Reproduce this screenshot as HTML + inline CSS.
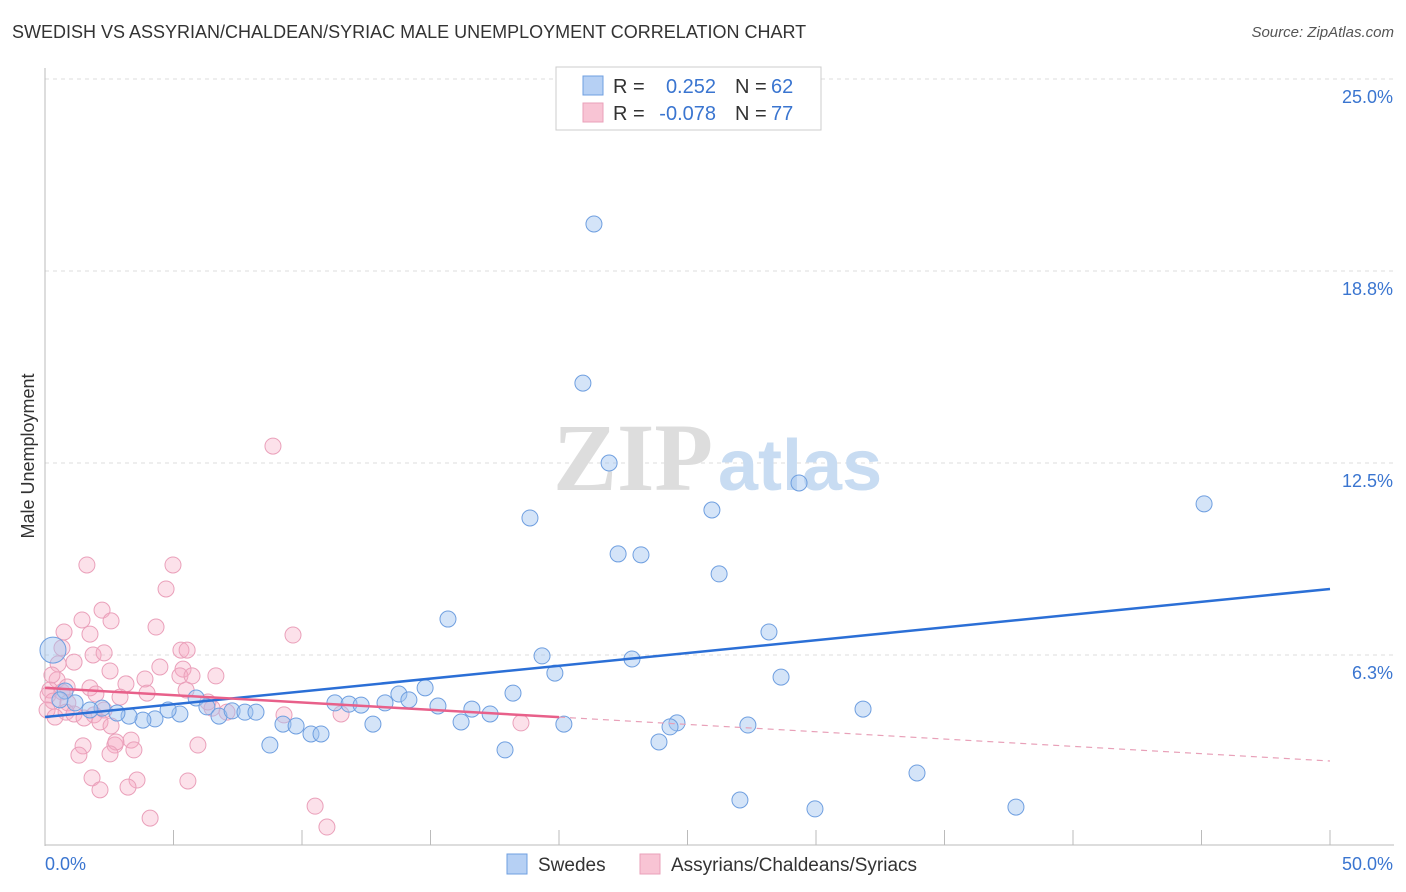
<!DOCTYPE html>
<html><head><meta charset="utf-8">
<style>
body{margin:0;background:#fff;font-family:"Liberation Sans",sans-serif;}
#wrap{position:relative;width:1406px;height:892px;overflow:hidden;}
.t{position:absolute;white-space:nowrap;}
</style></head>
<body>
<div id="wrap">
<div class="t" style="left:12px;top:22px;font-size:18px;color:#333;">SWEDISH VS ASSYRIAN/CHALDEAN/SYRIAC MALE UNEMPLOYMENT CORRELATION CHART</div>
<div class="t" style="right:12px;top:24px;font-size:15px;color:#555;font-style:italic;">Source: ZipAtlas.com</div>
<svg id="chart" width="1406" height="892" style="position:absolute;left:0;top:0"></svg>
</div>
<script>
const blueX=[21.36,20.93,21.95,18.87,25.95,29.34,45.10,22.30,23.19,26.23,15.68,28.17,19.34,22.84,19.84,28.64,14.79,13.77,18.21,11.28,11.83,12.30,13.23,14.16,15.29,16.61,17.32,16.19,12.76,20.19,31.83,24.59,24.32,27.35,23.89,17.90,8.75,9.26,9.77,10.35,10.74,5.88,6.30,6.77,7.28,7.78,8.21,5.25,4.79,4.28,3.81,3.27,2.80,2.22,1.75,1.17,0.78,0.31,0.58,33.93,27.04,29.96,37.78];
const blueY=[20.28,15.10,12.50,10.71,10.97,11.85,11.17,9.54,9.51,8.89,7.42,7.00,6.22,6.12,5.66,5.53,5.18,4.98,5.01,4.69,4.65,4.62,4.69,4.79,4.59,4.49,4.33,4.07,4.00,4.00,4.49,4.04,3.91,3.97,3.42,3.16,3.32,4.00,3.94,3.68,3.68,4.85,4.56,4.26,4.43,4.39,4.39,4.33,4.46,4.17,4.13,4.26,4.36,4.52,4.46,4.69,5.08,6.41,4.79,2.41,1.53,1.24,1.30];
const pinkX=[8.87,1.63,4.98,4.71,2.22,2.57,4.32,1.44,0.74,1.75,9.65,0.66,1.87,2.30,5.29,5.53,1.13,0.51,4.47,2.53,5.37,6.65,5.25,5.72,3.89,3.15,0.47,0.19,0.12,0.66,1.75,1.98,2.92,3.97,5.49,0.31,0.89,2.30,6.50,6.34,7.08,9.30,11.52,0.82,1.13,1.52,1.91,2.14,2.57,3.35,2.72,1.48,2.76,5.95,3.46,1.32,2.53,1.83,5.56,3.58,3.23,2.14,10.51,4.09,10.97,18.52,0.08,0.39,0.86,0.27];
const pinkY=[13.05,9.18,9.18,8.40,7.71,7.36,7.16,7.39,7.00,6.93,6.90,6.48,6.25,6.32,6.41,6.41,6.02,5.96,5.86,5.73,5.79,5.57,5.57,5.57,5.47,5.31,5.44,5.11,4.95,5.05,5.18,4.98,4.88,5.01,5.11,4.75,4.69,4.46,4.52,4.72,4.39,4.30,4.33,4.39,4.33,4.20,4.30,4.07,3.94,3.48,3.32,3.29,3.42,3.32,3.16,2.99,3.03,2.25,2.15,2.18,1.95,1.86,1.33,0.94,0.65,4.04,4.46,4.23,5.21,5.60];
const blueTrend=[4.23,8.40];
const pinkTrend=[5.18,2.80];
const yTicks=[6.3,12.5,18.8,25.0];
const xTickLabels=["0.0%","50.0%"];

const NS="http://www.w3.org/2000/svg";
const svg=document.getElementById('chart');
const X=v=>45+v*25.7, Y=v=>847-v*30.72;
function mk(tag,attrs,parent){const e=document.createElementNS(NS,tag);for(const k in attrs)e.setAttribute(k,attrs[k]);(parent||svg).appendChild(e);return e;}
// gridlines
yTicks.forEach(t=>{
 const l=mk('line',{x1:45,x2:1394,y1:Y(t===25?25:t===18.8?18.75:t===12.5?12.5:6.25),y2:Y(t===25?25:t===18.8?18.75:t===12.5?12.5:6.25),stroke:'#ddd','stroke-dasharray':'4,4'});
 
 
 const tx=mk('text',{x:1393,y:Y(t===25?25:t===18.8?18.75:t===12.5?12.5:6.25)+24,'text-anchor':'end',fill:'#3a75d0','font-size':18,'font-family':'Liberation Sans'});
 tx.textContent=t.toFixed(1)+'%';
 
 
});
// axes
const ya=mk('line',{x1:45,x2:45,y1:68,y2:846,stroke:'#bbb'});


const xa=mk('line',{x1:45,x2:1394,y1:845,y2:845,stroke:'#bbb'});


for(let i=0;i<=10;i++){const tk=mk('line',{x1:X(i*5),x2:X(i*5),y1:830,y2:845,stroke:'#bbb'});
 
 }
const xl0=mk('text',{x:45,y:870,fill:'#3a75d0','font-size':18,'font-family':'Liberation Sans'});xl0.textContent=xTickLabels[0];


const xl1=mk('text',{x:1393,y:870,'text-anchor':'end',fill:'#3a75d0','font-size':18,'font-family':'Liberation Sans'});xl1.textContent=xTickLabels[1];


const yt=mk('text',{x:0,y:0,transform:'translate(34,456) rotate(-90)','text-anchor':'middle',fill:'#333','font-size':18,'font-family':'Liberation Sans'});yt.textContent='Male Unemployment';


// watermark
const wm=mk('text',{x:553,y:490,fill:'#ddd','font-size':96,'font-family':'Liberation Serif','font-weight':'bold'});wm.textContent='ZIP';


const wm2=mk('text',{x:718,y:490,fill:'#c8dcf2','font-size':72,'font-family':'Liberation Sans','font-weight':'bold'});wm2.textContent='atlas';


// points
pinkX.forEach((x,i)=>{const c=mk('circle',{cx:X(x),cy:Y(pinkY[i]),r:8,fill:'rgba(245,170,195,0.35)',stroke:'#eaa0ba','stroke-width':1});
 
 });
blueX.forEach((x,i)=>{const c=mk('circle',{cx:X(x),cy:Y(blueY[i]),r:i===57?13:8,fill:'rgba(160,195,240,0.45)',stroke:'#6f9fe0','stroke-width':1});
 
 });
// trend lines
const bl=mk('line',{x1:X(0),y1:Y(blueTrend[0]),x2:X(50),y2:Y(blueTrend[1]),stroke:'#2b6fd6','stroke-width':2.5});


const pAt=v=>pinkTrend[0]+(pinkTrend[1]-pinkTrend[0])*v/50;
const pl=mk('line',{x1:X(0),y1:Y(pAt(0)),x2:X(20),y2:Y(pAt(20)),stroke:'#e8608a','stroke-width':2.5});


const pd=mk('line',{x1:X(20),y1:Y(pAt(20)),x2:X(50),y2:Y(pAt(50)),stroke:'#e8a0b8','stroke-width':1.2,'stroke-dasharray':'6,5'});


// legend box
const lg=mk('g',{});


mk('rect',{x:556,y:67,width:265,height:63,fill:'#fff',stroke:'#ccc'},lg);
mk('rect',{x:583,y:76,width:20,height:19,fill:'#b6d0f4',stroke:'#6f9fe0'},lg);
mk('rect',{x:583,y:103,width:20,height:19,fill:'#f8c4d4',stroke:'#eaa0ba'},lg);
function lt(x,y,s,c,a){const t=mk('text',{x:x,y:y,fill:c,'font-size':20,'font-family':'Liberation Sans','text-anchor':a||'start'},lg);t.textContent=s;return t;}
lt(613,93,'R =','#333');lt(716,93,'0.252','#3a75d0','end');lt(735,93,'N =','#333');lt(771,93,'62','#3a75d0');
lt(613,120,'R =','#333');lt(716,120,'-0.078','#3a75d0','end');lt(735,120,'N =','#333');lt(771,120,'77','#3a75d0');
// bottom legend
const b1=mk('rect',{x:507,y:854,width:20,height:20,fill:'#b6d0f4',stroke:'#6f9fe0'});


const bt1=mk('text',{x:538,y:871,fill:'#333','font-size':19,'font-family':'Liberation Sans'});bt1.textContent='Swedes';


const b2=mk('rect',{x:640,y:854,width:20,height:20,fill:'#f8c4d4',stroke:'#eaa0ba'});


const bt2=mk('text',{x:671,y:871,fill:'#333','font-size':19,'font-family':'Liberation Sans'});bt2.textContent='Assyrians/Chaldeans/Syriacs';


</script>
</body></html>
